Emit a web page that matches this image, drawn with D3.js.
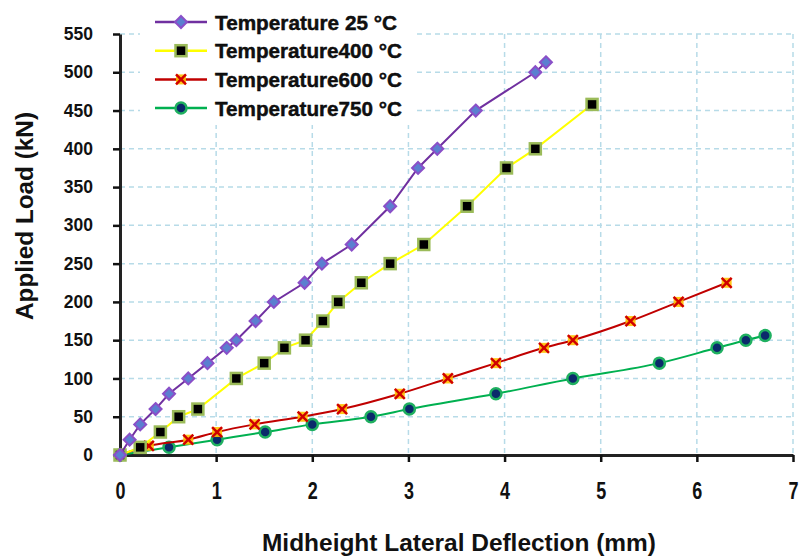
<!DOCTYPE html>
<html><head><meta charset="utf-8">
<script src="https://cdn.jsdelivr.net/npm/d3@7/dist/d3.min.js"></script>
<style>
body{margin:0;background:#fff;}
svg text{font-family:"Liberation Sans",Arial,sans-serif;font-weight:bold;fill:#111;}
</style></head>
<body><svg id="c" width="800" height="558"></svg>
<script>
const xTicks = [0,1,2,3,4,5,6,7];
const yTicks = [0,50,100,150,200,250,300,350,400,450,500,550];
const seriesNames = ["Temperature 25 °C","Temperature400 °C","Temperature600 °C","Temperature750 °C"];
const x25 = [0,0.1,0.21,0.37,0.51,0.71,0.91,1.11,1.21,1.41,1.6,1.92,2.1,2.41,2.81,3.1,3.3,3.7,4.32,4.43];
const y25 = [0,20,40,60,80,100,120,140,150,175,200,225,250,275,325,375,400,450,500,513];
const x400 = [0,0.21,0.42,0.61,0.81,1.21,1.5,1.71,1.93,2.11,2.27,2.51,2.81,3.16,3.61,4.02,4.32,4.91];
const y400 = [0,10,30,50,60,100,120,140,150,175,200,225,250,275,325,375,400,458];
const x600 = [0,0.3,0.71,1.01,1.4,1.9,2.31,2.91,3.41,3.91,4.41,4.71,5.31,5.81,6.31];
const y600 = [0,12,20,30,40,50,60,80,100,120,140,150,175,200,225];
const x750 = [0,0.51,1.01,1.51,2.0,2.61,3.01,3.91,4.71,5.61,6.21,6.51,6.71];
const y750 = [0,10,20,30,40,50,60,80,100,120,140,150,156];

const svg = d3.select("#c");
const L=120,R=793,T=34,B=455;
const x = d3.scaleLinear().domain([0,7]).range([L,R]);
const y = d3.scaleLinear().domain([0,550]).range([B,T]);

// gridlines
const grid = svg.append("g");
grid.selectAll("line.h").data(yTicks.filter(d=>d>0)).join("line")
  .attr("x1",L).attr("x2",R).attr("y1",d=>y(d)).attr("y2",d=>y(d))
  .attr("stroke","#b7dbe8").attr("stroke-width",1.5).attr("stroke-dasharray","5,4");
grid.selectAll("line.v").data(xTicks.filter(d=>d>0)).join("line")
  .attr("x1",d=>x(d)).attr("x2",d=>x(d)).attr("y1",T).attr("y2",B)
  .attr("stroke","#b7dbe8").attr("stroke-width",1.5).attr("stroke-dasharray","5,4");

// axes
const fmt = d3.format("d");
const yAx = svg.append("g").attr("transform",`translate(${L},0)`)
  .call(d3.axisLeft(y).tickValues(yTicks).tickFormat(fmt).tickSize(7).tickPadding(20).tickSizeOuter(0));
const xAx = svg.append("g").attr("transform",`translate(0,${B})`)
  .call(d3.axisBottom(x).tickValues(xTicks).tickFormat(fmt).tickSize(7).tickPadding(21).tickSizeOuter(0));
[yAx,xAx].forEach(a=>{
  a.select(".domain").attr("stroke","#222").attr("stroke-width",3);
  a.selectAll(".tick line").attr("stroke","#111").attr("stroke-width",2.5);
  a.selectAll(".tick text").attr("font-family","'Liberation Sans',Arial,sans-serif").attr("font-weight","bold").attr("fill","#111");
});
yAx.selectAll(".tick text").attr("font-size",17.5);
xAx.selectAll(".tick text").attr("font-size",23).attr("textLength",10).attr("lengthAdjust","spacingAndGlyphs");

// axis titles
svg.append("text").attr("x",459).attr("y",551).attr("text-anchor","middle").attr("font-size",24)
  .attr("textLength",394).attr("lengthAdjust","spacingAndGlyphs")
  .text("Midheight Lateral Deflection  (mm)");
svg.append("text").attr("transform","translate(33,216) rotate(-90)").attr("text-anchor","middle").attr("font-size",23)
  .attr("textLength",208).attr("lengthAdjust","spacingAndGlyphs")
  .text("Applied Load  (kN)");

// series
const series = [
  {name:seriesNames[0],xs:x25,ys:y25,line:"#7030a0",marker:"diamond",fill:"#5b7fd0",stroke:"#8a4fc8",curve:d3.curveLinear,tl:182},
  {name:seriesNames[1],xs:x400,ys:y400,line:"#ffff00",marker:"square",fill:"#000",stroke:"#9bbb59",curve:d3.curveLinear,tl:187},
  {name:seriesNames[2],xs:x600,ys:y600,line:"#c00000",marker:"x",fill:"#ffc000",stroke:"#d00000",curve:d3.curveMonotoneX,tl:187},
  {name:seriesNames[3],xs:x750,ys:y750,line:"#00b050",marker:"circle",fill:"#0b2a6b",stroke:"#1fb060",curve:d3.curveMonotoneX,tl:187}
];

function drawMarker(g,s,cx,cy){
  if(s.marker==="diamond"){
    g.append("path").attr("d",`M${cx},${cy-6}L${cx+6},${cy}L${cx},${cy+6}L${cx-6},${cy}Z`)
     .attr("fill",s.fill).attr("stroke",s.stroke).attr("stroke-width",2);
  } else if(s.marker==="square"){
    g.append("rect").attr("x",cx-5.5).attr("y",cy-5.5).attr("width",11).attr("height",11)
     .attr("fill",s.fill).attr("stroke",s.stroke).attr("stroke-width",2.5);
  } else if(s.marker==="x"){
    g.append("rect").attr("x",cx-5).attr("y",cy-5).attr("width",10).attr("height",10).attr("fill",s.fill).attr("opacity",0.9);
    g.append("path").attr("d",`M${cx-5},${cy-5}L${cx+5},${cy+5}M${cx-5},${cy+5}L${cx+5},${cy-5}`)
     .attr("stroke",s.stroke).attr("stroke-width",2.5);
  } else {
    g.append("circle").attr("cx",cx).attr("cy",cy).attr("r",5.5)
     .attr("fill",s.fill).attr("stroke",s.stroke).attr("stroke-width",2.5);
  }
}

series.slice().reverse().forEach(s=>{
  const pts = s.xs.map((v,i)=>[v,s.ys[i]]);
  svg.append("path").datum(pts)
    .attr("d",d3.line().x(d=>x(d[0])).y(d=>y(d[1])).curve(s.curve))
    .attr("fill","none").attr("stroke",s.line).attr("stroke-width",2);
  const g = svg.append("g");
  pts.forEach(p=>drawMarker(g,s,x(p[0]),y(p[1])));
});

// legend
const lg = svg.append("g");
lg.append("rect").attr("x",140).attr("y",0).attr("width",276).attr("height",125).attr("fill","#fff");
series.forEach((s,i)=>{
  const ly = 22 + i*28.7;
  lg.append("line").attr("x1",155).attr("x2",207).attr("y1",ly).attr("y2",ly).attr("stroke",s.line).attr("stroke-width",2.5);
  drawMarker(lg,s,181,ly);
  lg.append("text").attr("x",215).attr("y",ly+7.5).attr("font-size",20).attr("font-weight","normal")
    .attr("fill","#000").attr("stroke","#000").attr("stroke-width",0.4)
    .attr("textLength",s.tl).attr("lengthAdjust","spacingAndGlyphs").text(s.name);
});
</script></body></html>
